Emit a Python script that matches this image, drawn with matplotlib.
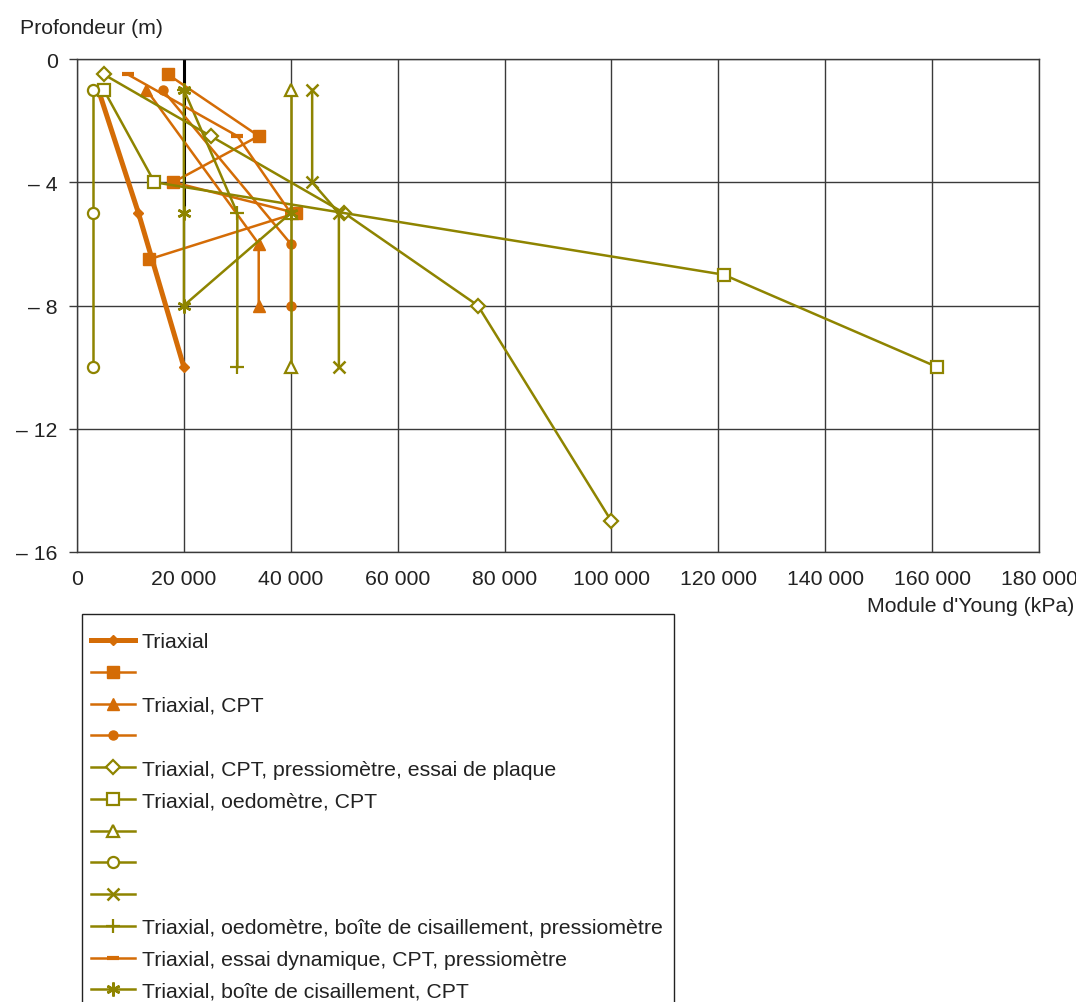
import matplotlib
matplotlib.use("Agg")
import matplotlib.pyplot as plt
from matplotlib.patches import Rectangle

plt.rcParams['font.family'] = ['Liberation Sans', 'DejaVu Sans']
plt.rcParams['text.color'] = '#222222'

ORANGE = '#D46C06'
OLIVE = '#8E8400'
GRID = '#3A3A3A'

# ---- data (Module d'Young in kPa, depth in m) ----
tri_x = [4000, 11500, 20000]
tri_y = [-1, -5, -10]
sq_x = [17000, 34000, 18000, 41000, 13500]
sq_y = [-0.5, -2.5, -4, -5, -6.5]
trc_x = [13000, 34000, 34000]
trc_y = [-1, -6, -8]
ci_x = [16000, 40000, 40000]
ci_y = [-1, -6, -8]
dia_x = [5000, 25000, 50000, 75000, 100000]
dia_y = [-0.5, -2.5, -5, -8, -15]
hsq_x = [5000, 14500, 121000, 161000]
hsq_y = [-1, -4, -7, -10]
htr_x = [40000, 40000, 40000]
htr_y = [-1, -5, -10]
hci_x = [3000, 3000, 3000]
hci_y = [-1, -5, -10]
xx_x = [44000, 44000, 49000, 49000]
xx_y = [-1, -4, -5, -10]
plus_x = [20000, 30000, 30000]
plus_y = [-1, -5, -10]
dash_x = [9500, 30000, 40000]
dash_y = [-0.5, -2.5, -5]
ast_x = [20000, 20000, 20000, 40000]
ast_y = [-1, -5, -8, -5]
blk_x = [20000, 20000]
blk_y = [0, -5]

labels = [
    "Triaxial",
    " ",
    "Triaxial, CPT",
    " ",
    "Triaxial, CPT, pressiomètre, essai de plaque",
    "Triaxial, oedomètre, CPT",
    " ",
    " ",
    " ",
    "Triaxial, oedomètre, boîte de cisaillement, pressiomètre",
    "Triaxial, essai dynamique, CPT, pressiomètre",
    "Triaxial, boîte de cisaillement, CPT",
]

x_ticks = [0, 20000, 40000, 60000, 80000, 100000, 120000, 140000, 160000, 180000]
y_ticks = [0, -4, -8, -12, -16]

FS = 15.3
W, H = 1076, 1003
fig = plt.figure(figsize=(W / 100, H / 100), dpi=100)
ax = fig.add_axes([77 / W, 1 - 553 / H, (1039 - 77) / W, (553 - 60) / H])

ax.plot(blk_x, blk_y, color='black', lw=2.2, zorder=2)

thin = 1.8
hollow = dict(mfc='white', mew=1.6)
handles = []
handles += ax.plot(tri_x, tri_y, color=ORANGE, lw=3.6, marker='D', ms=5.5, mec=ORANGE, mfc=ORANGE, zorder=3)
handles += ax.plot(sq_x, sq_y, color=ORANGE, lw=thin, marker='s', ms=8, mec=ORANGE, mfc=ORANGE, zorder=3)
handles += ax.plot(trc_x, trc_y, color=ORANGE, lw=thin, marker='^', ms=8.5, mec=ORANGE, mfc=ORANGE, zorder=3)
handles += ax.plot(ci_x, ci_y, color=ORANGE, lw=thin, marker='o', ms=6.5, mec=ORANGE, mfc=ORANGE, zorder=3)
handles += ax.plot(dia_x, dia_y, color=OLIVE, lw=thin, marker='D', ms=7, mec=OLIVE, zorder=3, **hollow)
handles += ax.plot(hsq_x, hsq_y, color=OLIVE, lw=thin, marker='s', ms=8, mec=OLIVE, zorder=3, **hollow)
handles += ax.plot(htr_x, htr_y, color=OLIVE, lw=thin, marker='^', ms=9, mec=OLIVE, zorder=3, **hollow)
handles += ax.plot(hci_x, hci_y, color=OLIVE, lw=thin, marker='o', ms=8, mec=OLIVE, zorder=3, **hollow)
handles += ax.plot(xx_x, xx_y, color=OLIVE, lw=thin, marker='x', ms=9, mec=OLIVE, mew=1.8, zorder=3)
handles += ax.plot(plus_x, plus_y, color=OLIVE, lw=thin, marker='+', ms=10, mec=OLIVE, mew=1.6, zorder=3)
handles += ax.plot(dash_x, dash_y, color=ORANGE, lw=thin, marker='_', ms=9, mec=ORANGE, mew=3, zorder=3)
handles += ax.plot(ast_x, ast_y, color=OLIVE, lw=thin, marker=(6, 2, 0), ms=10, mec=OLIVE, mew=1.8, zorder=3)

ax.set_xlim(0, 180000)
ax.set_ylim(-16, 0)
ax.set_xticks(x_ticks)
ax.set_xticklabels([("%d" % v) if v == 0 else f"{v:,}".replace(",", " ") for v in x_ticks])
ax.set_yticks(y_ticks)
ax.set_yticklabels(["0" if v == 0 else f"– {abs(v)}" for v in y_ticks])
ax.grid(True, color=GRID, lw=1.0)
ax.set_axisbelow(True)
for s in ax.spines.values():
    s.set_color(GRID)
    s.set_linewidth(1.0)
ax.tick_params(axis='y', direction='out', length=6, width=1.0, color=GRID, pad=8, labelsize=FS, labelcolor='#222222')
ax.tick_params(axis='x', length=0, pad=12, labelsize=FS, labelcolor='#222222')

fig.text(20 / W, 1 - 28 / H, "Profondeur (m)", ha='left', va='center', fontsize=FS)
fig.text(1074 / W, 1 - 606 / H, "Module d'Young (kPa)", ha='right', va='center', fontsize=FS)

# legend frame (open at the bottom of the figure)
fig.add_artist(Rectangle((82 / W, -0.02), (674 - 82) / W, (1 - 615 / H) + 0.02,
                         transform=fig.transFigure, fill=False, edgecolor='#222222', lw=1.0))

leg = fig.legend(handles, labels, loc='upper left', bbox_to_anchor=(82 / W, 1 - 625 / H),
                 bbox_transform=fig.transFigure, fontsize=FS, frameon=False,
                 borderaxespad=0, borderpad=0.4,
                 handlelength=2.1, handletextpad=0.3, labelspacing=0.6)

fig.savefig("out.png", dpi=100)
